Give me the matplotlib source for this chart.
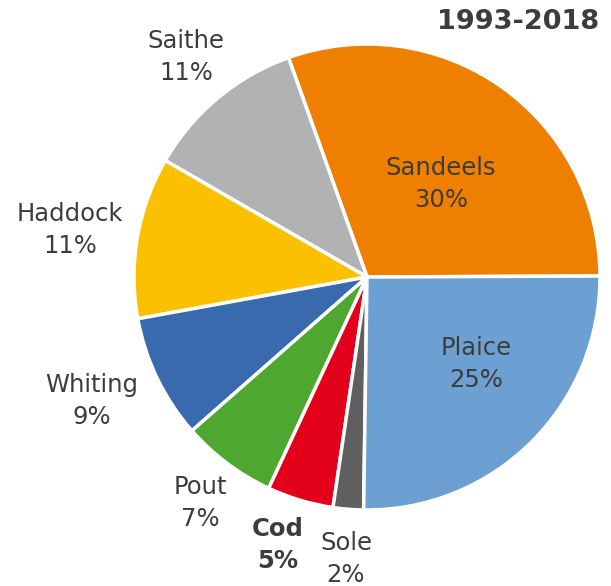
import matplotlib
matplotlib.use("Agg")
import matplotlib.pyplot as plt

species = ["Sandeels", "Saithe", "Haddock", "Whiting", "Pout", "Cod", "Sole", "Plaice"]
shares = [30.4, 11.2, 11.2, 8.6, 6.6, 4.6, 2.1, 25.3]
shown_pct = [30, 11, 11, 9, 7, 5, 2, 25]
colors = ["#EE7F00", "#B1B2B4", "#FBC000", "#3A6AAE", "#4EA72E", "#E2001A", "#5F5F5F", "#6C9FD2"]
title = "1993-2018"

# label positions in pixel coords (x, y from top)
label_pos = {
    "Sandeels": (441, 184),
    "Saithe": (186, 57),
    "Haddock": (70, 230),
    "Whiting": (92, 401),
    "Pout": (200, 503),
    "Cod": (278, 545),
    "Sole": (346, 559),
    "Plaice": (476, 364),
}

W, H = 611, 586
fig = plt.figure(figsize=(W / 100, H / 100), dpi=100)
ax = fig.add_axes([0, 0, 1, 1])

ax.pie(shares, colors=colors, startangle=0.25, counterclock=True,
       center=(367, H - 277), radius=233,
       wedgeprops=dict(edgecolor="white", linewidth=2.5))
ax.set_xlim(0, W)
ax.set_ylim(0, H)
ax.set_aspect("auto")
ax.axis("off")

txt = "#3C3C3C"
for name, val in zip(species, shown_pct):
    x, y = label_pos[name]
    ax.text(x, H - y, f"{name}\n{val}%", ha="center", va="center",
            fontsize=17.5, color=txt, family="DejaVu Sans",
            fontweight="bold" if name == "Cod" else "normal",
            linespacing=1.46)

ax.text(599, H - 22, title, ha="right", va="center", fontsize=19.5,
        fontweight="bold", color=txt, family="DejaVu Sans")

fig.savefig("out.png", dpi=100)
